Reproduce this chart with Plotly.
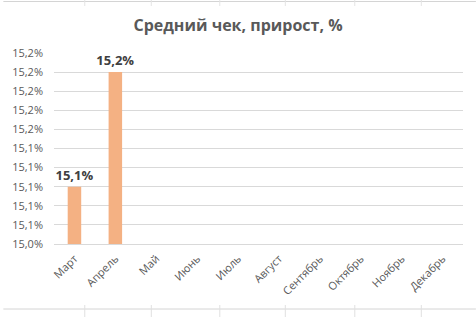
import plotly.graph_objects as go

months = ["Март", "Апрель", "Май", "Июнь", "Июль", "Август",
          "Сентябрь", "Октябрь", "Ноябрь", "Декабрь"]
values = [15.10, 15.22, None, None, None, None, None, None, None, None]
value_labels = ["15,1%", "15,2%", "", "", "", "", "", "", "", ""]
y_ticks = [15.04, 15.06, 15.08, 15.10, 15.12, 15.14, 15.16, 15.18, 15.20, 15.22, 15.24]
y_tick_labels = ["15,0%", "15,1%", "15,1%", "15,1%", "15,1%", "15,1%",
                 "15,2%", "15,2%", "15,2%", "15,2%", "15,2%"]

W, H = 476, 317
L, R, T, B = 51, 13, 53, 73

fig = go.Figure()
fig.add_trace(go.Bar(
    x=months, y=values, text=value_labels, textposition="outside",
    constraintext="none",
    textfont=dict(family="Open Sans", size=13, color="#404040", weight="bold"),
    marker=dict(color="#F4B183", line=dict(width=0)),
    width=0.33, cliponaxis=False,
))

def px2paper_x(px):
    return (px - L) / (W - L - R)

def px2paper_y(py):
    return (H - B - py) / (H - T - B)

shapes = []
line_col = "#d4d4d4"
for py in (1.5, 309):
    shapes.append(dict(type="line", xref="paper", yref="paper",
                       x0=px2paper_x(0), x1=px2paper_x(W), y0=px2paper_y(py), y1=px2paper_y(py),
                       line=dict(color=line_col, width=1)))
for px in (82, 149, 218, 284, 354, 421):
    shapes.append(dict(type="line", xref="paper", yref="paper",
                       x0=px2paper_x(px), x1=px2paper_x(px), y0=px2paper_y(0), y1=px2paper_y(6),
                       line=dict(color="#e4e4e4", width=1)))
    shapes.append(dict(type="line", xref="paper", yref="paper",
                       x0=px2paper_x(px), x1=px2paper_x(px), y0=px2paper_y(305), y1=px2paper_y(317),
                       line=dict(color="#e0e0e0", width=1)))

fig.update_layout(
    width=W, height=H,
    margin=dict(l=L, r=R, t=T, b=B, pad=0),
    paper_bgcolor="white", plot_bgcolor="white",
    title=dict(text="<b>Средний чек, прирост, %</b>", x=0.5, xanchor="center",
               y=1 - 25 / H, yanchor="middle",
               font=dict(family="Open Sans", size=16, color="#595959")),
    showlegend=False,
    bargap=0.67,
    shapes=shapes,
    xaxis=dict(tickangle=-45, showgrid=False, showline=True, linecolor="#d9d9d9",
               linewidth=1, ticks="", tickfont=dict(family="Open Sans", size=11, color="#595959"),
               ticklabelstandoff=3, fixedrange=True),
    yaxis=dict(range=[15.04, 15.24], tickvals=y_ticks, ticktext=y_tick_labels,
               showgrid=True, gridcolor="#d9d9d9", gridwidth=1, zeroline=False,
               showline=False, ticks="", ticklabelstandoff=10,
               tickfont=dict(family="Open Sans", size=11, color="#595959"),
               fixedrange=True),
)

fig.write_html("out.html")
